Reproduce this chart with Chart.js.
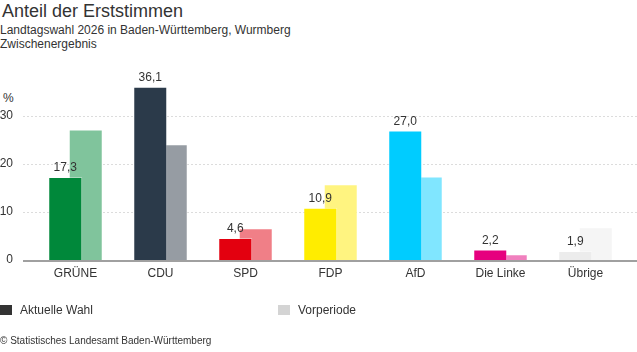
<!DOCTYPE html>
<html>
<head>
<meta charset="utf-8">
<script src="https://cdn.jsdelivr.net/npm/chart.js@4/dist/chart.umd.min.js"></script>
<style>
  body{margin:0;width:637px;height:352px;overflow:hidden;background:#fff;font-family:"Liberation Sans",Arial,sans-serif;color:#333;position:relative;}
  .txt{position:absolute;white-space:nowrap;}
  #title{left:2px;top:1px;font-size:18px;color:#333;}
  #sub1{left:0;top:23px;font-size:12px;}
  #sub2{left:0;top:37px;font-size:12px;}
  #unit{left:3px;top:91px;font-size:12px;}
  .leg{position:absolute;top:303px;font-size:12px;}
  .leg span{display:inline-block;width:12px;height:10px;vertical-align:-1px;margin-right:8px;}
  #foot{left:0;top:335px;font-size:10px;}
  #wrap{position:absolute;left:0;top:0;width:637px;height:352px;}
</style>
</head>
<body>
<div class="txt" id="title">Anteil der Erststimmen</div>
<div class="txt" id="sub1">Landtagswahl 2026 in Baden-Württemberg, Wurmberg</div>
<div class="txt" id="sub2">Zwischenergebnis</div>
<div class="txt" id="unit">%</div>
<div id="wrap"><canvas id="myChart"></canvas></div>
<div class="leg" style="left:0"><span style="background:#333"></span>Aktuelle Wahl</div>
<div class="leg" style="left:278px"><span style="background:#d4d4d4"></span>Vorperiode</div>
<div class="txt" id="foot">© Statistisches Landesamt Baden-Württemberg</div>
<script>
// data
const parties = ["GRÜNE","CDU","SPD","FDP","AfD","Die Linke","Übrige"];
const current = [17.3,36.1,4.6,10.9,27.0,2.2,1.9];
const previous = [27.2,24.1,6.6,15.8,17.4,1.2,6.8];
const yTicks = [0,10,20,30];

const colorsNow = ["#00883a","#2b3a4a","#e3000f","#ffed00","#00ccff","#e6007e","#ececec"];
const colorsPrev = ["#80c49c","#969ca3","#f07f87","#fff480","#80e6ff","#f080be","#f5f5f5"];

// gridlines + baseline, full width like the original
const gridPlugin = {
    id:'grid',
    beforeDatasetsDraw(chart){
        const c = chart.ctx, y = chart.scales.y;
        c.save();
        c.strokeStyle = "#dcdcdc";
        c.lineWidth = 1;
        c.setLineDash([2,2]);
        yTicks.forEach((t)=>{
            if(t===0) return;
            const py = Math.round(y.getPixelForValue(t))+0.5;
            c.beginPath(); c.moveTo(23,py); c.lineTo(637,py); c.stroke();
        });
        c.restore();
    },
    afterDatasetsDraw(chart){
        const c = chart.ctx, y = chart.scales.y;
        c.save();
        c.strokeStyle = "#a0a0a0";
        c.lineWidth = 2;
        const py = y.getPixelForValue(0)+1;
        c.beginPath(); c.moveTo(23,py); c.lineTo(637,py); c.stroke();
        // value labels over current bars
        c.fillStyle = "#333";
        c.font = "12px 'Liberation Sans', Arial, sans-serif";
        c.textAlign = "center";
        c.textBaseline = "bottom";
        const meta = chart.getDatasetMeta(0);
        meta.data.forEach((bar,i)=>{
            c.fillText(current[i].toFixed(1).replace('.',','), bar.x, bar.y-3);
        });
        c.restore();
    }
};

var ctx = document.getElementById('myChart');
const myChart = new Chart(ctx,{
    type:'bar',
    data:{
        labels:parties,
        datasets:[
            {
                label:"Aktuelle Wahl",
                data:current,
                backgroundColor:colorsNow,
                borderColor:"rgba(255,255,255,0.35)",
                borderWidth:1
            },
            {
                label:"Vorperiode",
                data:previous,
                backgroundColor:colorsPrev,
                borderColor:"rgba(255,255,255,0.35)",
                borderWidth:1
            }
        ]
    },
    options:{
        responsive:true,
        maintainAspectRatio:false,
        animation:false,
        layout:{
            padding:{top:68,left:0,right:9,bottom:0}
        },
        datasets:{
            bar:{
                categoryPercentage:0.482,
                barPercentage:1.66
            }
        },
        plugins:{
            legend:{display:false},
            tooltip:{enabled:false}
        },
        scales:{
            x:{
                grid:{display:false,drawTicks:false},
                border:{display:false},
                ticks:{
                    color:"#333",
                    padding:6,
                    font:{family:"'Liberation Sans', Arial, sans-serif",size:12}
                },
                afterFit(scale){ scale.height = 92; }
            },
            y:{
                min:0,
                max:40,
                grid:{display:false,drawTicks:false},
                border:{display:false},
                ticks:{
                    stepSize:10,
                    color:"#333",
                    padding:20,
                    font:{family:"'Liberation Sans', Arial, sans-serif",size:12},
                    callback:(v)=> yTicks.includes(v) ? v : ''
                },
                afterFit(scale){ scale.width = 33; }
            }
        }
    },
    plugins:[gridPlugin]
});
</script>
</body>
</html>
